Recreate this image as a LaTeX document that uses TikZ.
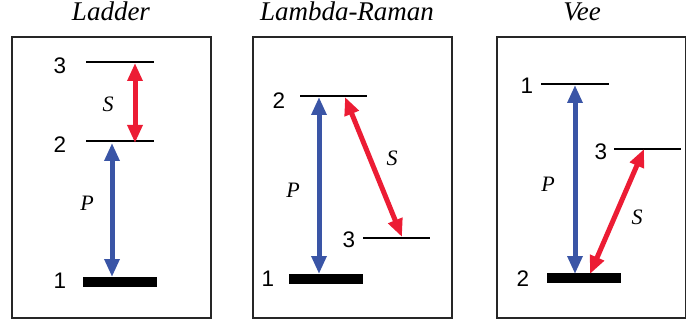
\documentclass[tikz,border=0pt]{standalone}
\usepackage{fontspec}
\setmainfont{Liberation Serif}
\newfontfamily\lvlfont{Liberation Sans}
\usetikzlibrary{arrows.meta}
\definecolor{pumpblue}{HTML}{3A55A6}
\definecolor{stokesred}{HTML}{EC1C34}
\tikzset{
  panel/.style={draw=black!85, line width=1.3pt},
  level/.style={line width=2.8pt},
  ground/.style={line width=10pt},
  lvllabel/.style={font=\lvlfont\fontsize{22.5}{22.5}\selectfont, inner sep=0pt},
  ptitle/.style={font=\itshape\fontsize{27}{27}\selectfont, inner sep=0pt, anchor=base},
  fieldlabel/.style={font=\itshape\fontsize{22}{22}\selectfont, inner sep=0pt},
  transition/.style={line width=5pt, {Triangle[width=14.5pt,length=18pt]}-{Triangle[width=14.5pt,length=18pt]}},
  pump/.style={transition, draw=pumpblue, color=pumpblue},
  stokes/.style={transition, draw=stokesred, color=stokesred},
}
\begin{document}
\begin{tikzpicture}[x=1pt,y=-1pt]
\useasboundingbox (0,0) rectangle (686,326);
% ---------- Ladder ----------
\node[ptitle] (tL) at (111,21) {Ladder};
\draw[panel] (12,37) rectangle (211,318);
\draw[level] (86,62) -- (154,62);
\draw[level] (86,141) -- (154,141);
\draw[ground] (83,282) -- (157,282);
\node[lvllabel] (L3) at (60,66) {3};
\node[lvllabel] (L2) at (60,145) {2};
\node[lvllabel] (L1) at (60,281) {1};
\coordinate (LSa) at (135,63);
\coordinate (LSb) at (135,143);
\coordinate (LPa) at (112,143);
\coordinate (LPb) at (112,277);
\draw[stokes] (LSa) -- (LSb);
\draw[pump] (LPa) -- (LPb);
\node[fieldlabel] (LS) at (108,104) {S};
\node[fieldlabel] (LP) at (87,203) {P};
% ---------- Lambda-Raman ----------
\node[ptitle] (tM) at (347,21) {Lambda-Raman};
\draw[panel] (253,37) rectangle (452,318);
\draw[level] (300,96) -- (367,96);
\draw[level] (363,238) -- (430,238);
\draw[ground] (289,279) -- (363,279);
\node[lvllabel] (M2) at (279,101) {2};
\node[lvllabel] (M3) at (349,240) {3};
\node[lvllabel] (M1) at (268,279) {1};
\coordinate (MPa) at (319,97);
\coordinate (MPb) at (319,274);
\coordinate (MSa) at (345,97);
\coordinate (MSb) at (402,237);
\draw[pump] (MPa) -- (MPb);
\draw[stokes] (MSa) -- (MSb);
\node[fieldlabel] (MS) at (392,158) {S};
\node[fieldlabel] (MP) at (293,190) {P};
% ---------- Vee ----------
\node[ptitle] (tV) at (582,21) {Vee};
\draw[panel] (497,37) rectangle (685.3,318);
\draw[level] (541,84) -- (609,84);
\draw[level] (614,149) -- (681,149);
\draw[ground] (547,278) -- (621,278);
\node[lvllabel] (V1) at (527,86) {1};
\node[lvllabel] (V3) at (601,152) {3};
\node[lvllabel] (V2) at (523,279) {2};
\coordinate (VPa) at (575,85);
\coordinate (VPb) at (575,274);
\coordinate (VSa) at (644,149);
\coordinate (VSb) at (590,274);
\draw[pump] (VPa) -- (VPb);
\draw[stokes] (VSa) -- (VSb);
\node[fieldlabel] (VP) at (548,184) {P};
\node[fieldlabel] (VS) at (637,217) {S};
\end{tikzpicture}
\end{document}
